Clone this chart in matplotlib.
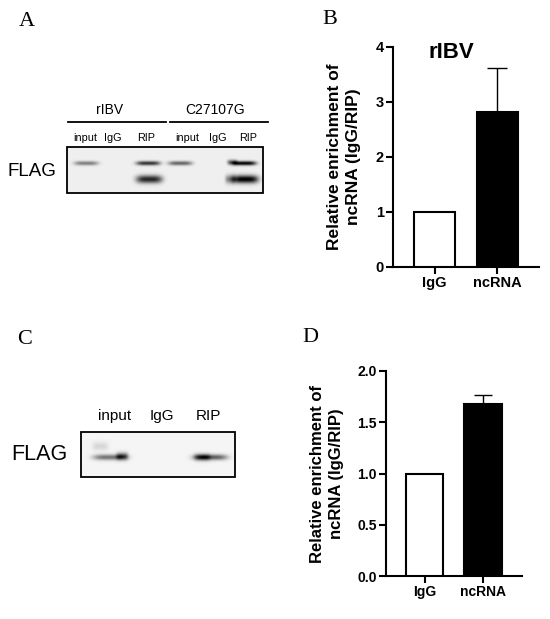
import numpy as np
import matplotlib
matplotlib.use('Agg')
import matplotlib.pyplot as plt
from matplotlib.patches import Rectangle

plt.rcParams['font.family'] = ['Liberation Sans', 'DejaVu Sans']

# bar chart data
groups = ['IgG', 'ncRNA']
rIBV_vals = [1.0, 2.82]
rIBV_err = [0.0, 0.79]
panelD_vals = [1.0, 1.68]
panelD_err = [0.0, 0.085]

# blot lanes
lanesA = ['input', 'IgG', 'RIP', 'input', 'IgG', 'RIP']
groupsA = ['rIBV', 'C27107G']
lanesC = ['input', 'IgG', 'RIP']
# band darkness per lane (upper band, lower band)
bandsA_upper = [0.45, 0.0, 0.75, 0.55, 0.0, 0.95]
bandsA_lower = [0.0, 0.0, 0.8, 0.0, 0.0, 0.95]
bandsC = [0.85, 0.0, 1.0]


def blot_image(w, h, bands, bg=0.94):
    yy, xx = np.mgrid[0:h:0.5, 0:w:0.5]
    dark = np.zeros_like(xx)
    for cx, cy, hw, sy, amp in bands:
        fx = np.exp(-(np.abs(xx - cx) / hw) ** 4)
        fy = np.exp(-((yy - cy) / sy) ** 2 / 2)
        dark += amp * fx * fy
    return np.clip(bg - dark, 0, 1)


fig = plt.figure(figsize=(5.5, 6.19), dpi=100)
ov = fig.add_axes([0, 0, 1, 1])
ov.set_xlim(0, 550)
ov.set_ylim(619, 0)
ov.axis('off')
ov.patch.set_visible(False)

# panel letters
for lab, x, y in [('A', 27, 22), ('B', 330, 20), ('C', 25, 340), ('D', 310, 337)]:
    ov.text(x, y, lab, fontsize=16, family='Liberation Serif', ha='center', va='center')

# ---- panel A blot
x0, x1, y0, y1 = 67, 263, 147, 193
laneA_x = [86, 115, 148, 180, 214, 244]
bands = []
for i in range(6):
    if bandsA_upper[i] > 0:
        bands.append((laneA_x[i] - x0, 163 - y0, 12, 1.5, bandsA_upper[i]))
    if bandsA_lower[i] > 0:
        bands.append((laneA_x[i] - x0 + 1, 179 - y0, 13, 2.8, bandsA_lower[i]))
bands.append((232 - x0, 162 - y0, 5, 1.8, 0.5))
bands.append((230 - x0, 179 - y0, 5, 3.0, 0.4))
imgA = blot_image(x1 - x0, y1 - y0, bands)
ov.imshow(imgA, cmap='gray', vmin=0, vmax=1, extent=(x0, x1, y1, y0), aspect='auto', interpolation='bilinear')
ov.add_patch(Rectangle((x0, y0), x1 - x0, y1 - y0, fill=False, ec='black', lw=1.3))
labA_x = [85, 113, 146, 187, 218, 248]
for i, lab in enumerate(lanesA):
    ov.text(labA_x[i], 138, lab, fontsize=7.8, ha='center', va='center')
ov.plot([68, 166], [122, 122], color='black', lw=1.3)
ov.plot([170, 268], [122, 122], color='black', lw=1.3)
ov.text(110, 110, groupsA[0], fontsize=10, ha='center', va='center')
ov.text(215, 110, groupsA[1], fontsize=10, ha='center', va='center')
ov.text(32, 172, 'FLAG', fontsize=13.5, ha='center', va='center')

# ---- panel C blot
x0, x1, y0, y1 = 81, 235, 432, 477
laneC_x = [110, 162, 210]
bands = []
for i in range(3):
    if bandsC[i] > 0:
        bands.append((laneC_x[i] - x0, 457 - y0, 17, 2.0, bandsC[i] * 0.6))
bands.append((122 - x0, 456 - y0, 6, 2.6, 0.5))
bands.append((202 - x0, 457 - y0, 8, 2.4, 0.4))
bands.append((100 - x0, 446 - y0, 8, 3.0, 0.12))
imgC = blot_image(x1 - x0, y1 - y0, bands, bg=0.96)
ov.imshow(imgC, cmap='gray', vmin=0, vmax=1, extent=(x0, x1, y1, y0), aspect='auto', interpolation='bilinear')
ov.add_patch(Rectangle((x0, y0), x1 - x0, y1 - y0, fill=False, ec='black', lw=1.3))
for i, lab in enumerate(lanesC):
    ov.text([115, 162, 208][i], 416, lab, fontsize=11, ha='center', va='center')
ov.text(39, 455, 'FLAG', fontsize=15.5, ha='center', va='center')


def bar_panel(rect, vals, errs, ymax, yticks, ticklabels, tsize, capsize, xlim):
    ax = fig.add_axes(rect)
    x = np.arange(len(groups))
    ax.bar(x, vals, width=0.65, color=['white', 'black'], edgecolor='black', linewidth=1.5, zorder=3)
    ax.errorbar(x, vals, yerr=[np.zeros(len(errs)), errs], fmt='none', ecolor='black',
                elinewidth=1.0, capsize=capsize, capthick=1.0, zorder=2)
    ax.set_ylim(0, ymax)
    ax.set_xlim(*xlim)
    ax.set_yticks(yticks)
    ax.set_yticklabels(ticklabels, fontsize=tsize, fontweight='bold')
    ax.set_xticks(x)
    ax.set_xticklabels(groups, fontsize=tsize, fontweight='bold')
    for s in ['top', 'right']:
        ax.spines[s].set_visible(False)
    for s in ['left', 'bottom']:
        ax.spines[s].set_linewidth(1.5)
    ax.tick_params(width=1.5, length=5, pad=1.5)
    ax.patch.set_visible(False)
    return ax


# panel B
axB = bar_panel([393 / 550, (619 - 267) / 619, 146 / 550, 220 / 619], rIBV_vals, rIBV_err,
                4, [0, 1, 2, 3, 4], ['0', '1', '2', '3', '4'], 10.5, 7, (-0.66, 1.66))
ov.text(451, 52, 'rIBV', fontsize=16, fontweight='bold', ha='center', va='center')
ov.text(344, 157, 'Relative enrichment of\nncRNA (IgG/RIP)', fontsize=12.5, fontweight='bold',
        rotation=90, ha='center', va='center', multialignment='center', linespacing=1.4)

# panel D
axD = bar_panel([386 / 550, (619 - 576) / 619, 136 / 550, 205 / 619], panelD_vals, panelD_err,
                2.0, [0, 0.5, 1.0, 1.5, 2.0], ['0.0', '0.5', '1.0', '1.5', '2.0'], 10, 6.5, (-0.66, 1.67))
ov.text(327, 474, 'Relative enrichment of\nncRNA (IgG/RIP)', fontsize=12, fontweight='bold',
        rotation=90, ha='center', va='center', multialignment='center', linespacing=1.25)

fig.savefig('out.png', dpi=100)
